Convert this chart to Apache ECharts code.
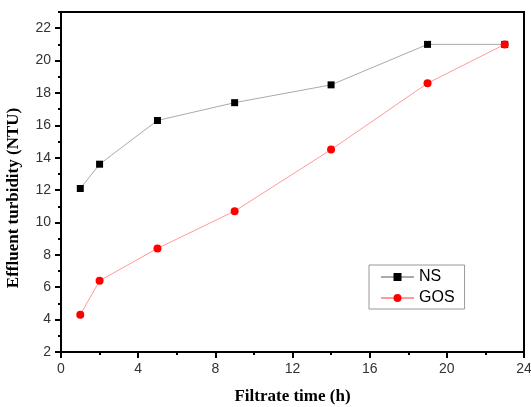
<!DOCTYPE html>
<html>
<head>
<meta charset="utf-8">
<script src="https://cdn.jsdelivr.net/npm/echarts@6/dist/echarts.min.js"></script>
<style>
  html, body { margin: 0; padding: 0; background: #fff; }
  #chart { width: 531px; height: 407px; }
</style>
</head>
<body>
<div id="chart"></div>
<script>
const times = [1, 2, 5, 9, 14, 19, 23]
const nsValues = [12.1, 13.6, 16.3, 17.4, 18.5, 21.0, 21.0]
const gosValues = [4.3, 6.4, 8.4, 10.7, 14.5, 18.6, 21.0]

const toPairs = (xs, ys) => xs.map((x, i) => [x, ys[i]])

const chart = echarts.init(document.getElementById("chart"))

const labelFont = { color: "#333", fontSize: 14, fontFamily: "Liberation Sans, Arial, sans-serif" }
const serifFamily = "Liberation Serif, Times New Roman, serif"

const option = {
  animation: false,
  grid: {
    left: 61,
    right: 7,
    top: 12,
    bottom: 55,
    outerBoundsMode: "none",
    show: true,
    borderColor: "#000",
    borderWidth: 2
  },
  // y title placed by hand so it sits a little below the plot centre, like the original
  graphic: [
    {
      type: "text",
      x: 14,
      y: 198,
      rotation: Math.PI / 2,
      style: {
        text: "Effluent turbidity (NTU)",
        align: "center",
        verticalAlign: "middle",
        fill: "#000",
        font: "bold 17px " + serifFamily
      }
    }
  ],
  legend: {
    orient: "vertical",
    left: 369,
    top: 265,
    padding: [4, 10, 3, 11],
    itemGap: 5,
    itemWidth: 33,
    itemHeight: 10,
    borderColor: "#999",
    borderWidth: 1,
    textStyle: { color: "#000", fontSize: 16, fontFamily: "Liberation Sans, Arial, sans-serif" },
    data: ["NS", "GOS"]
  },
  xAxis: {
    type: "value",
    min: 0,
    max: 24,
    interval: 4,
    name: "Filtrate time (h)",
    nameLocation: "middle",
    nameGap: 36,
    nameTextStyle: { color: "#000", fontSize: 17, fontWeight: "bold", fontFamily: serifFamily },
    axisLine: { lineStyle: { color: "#000", width: 2 } },
    axisTick: { inside: false, length: 6, lineStyle: { color: "#000", width: 2 } },
    minorTick: { show: true, splitNumber: 2, length: 3, lineStyle: { color: "#000", width: 2 } },
    axisLabel: Object.assign({ margin: 10 }, labelFont),
    splitLine: { show: false }
  },
  yAxis: [
    {
      type: "value",
      position: "left",
      min: 2,
      max: 23,
      interval: 2,
      axisLine: { lineStyle: { color: "#000", width: 2 } },
      axisTick: { inside: false, length: 6, lineStyle: { color: "#000", width: 2 } },
      axisLabel: Object.assign({ margin: 10, showMaxLabel: false }, labelFont),
      splitLine: { show: false }
    },
    {
      // minor ticks every 1 unit
      type: "value",
      position: "left",
      min: 2,
      max: 23,
      interval: 1,
      axisLine: { show: false },
      axisTick: { inside: false, length: 3, lineStyle: { color: "#000", width: 2 } },
      axisLabel: { show: false },
      splitLine: { show: false }
    }
  ],
  series: [
    {
      name: "NS",
      type: "line",
      yAxisIndex: 0,
      data: toPairs(times, nsValues),
      symbol: "rect",
      symbolSize: 7,
      itemStyle: { color: "#000" },
      lineStyle: { color: "#aaa", width: 1 },
      z: 2
    },
    {
      name: "GOS",
      type: "line",
      yAxisIndex: 0,
      data: toPairs(times, gosValues),
      symbol: "circle",
      symbolSize: 8,
      itemStyle: { color: "#ff0000" },
      lineStyle: { color: "#ff9a9a", width: 1 },
      z: 3
    }
  ]
}

chart.setOption(option)
</script>
</body>
</html>
